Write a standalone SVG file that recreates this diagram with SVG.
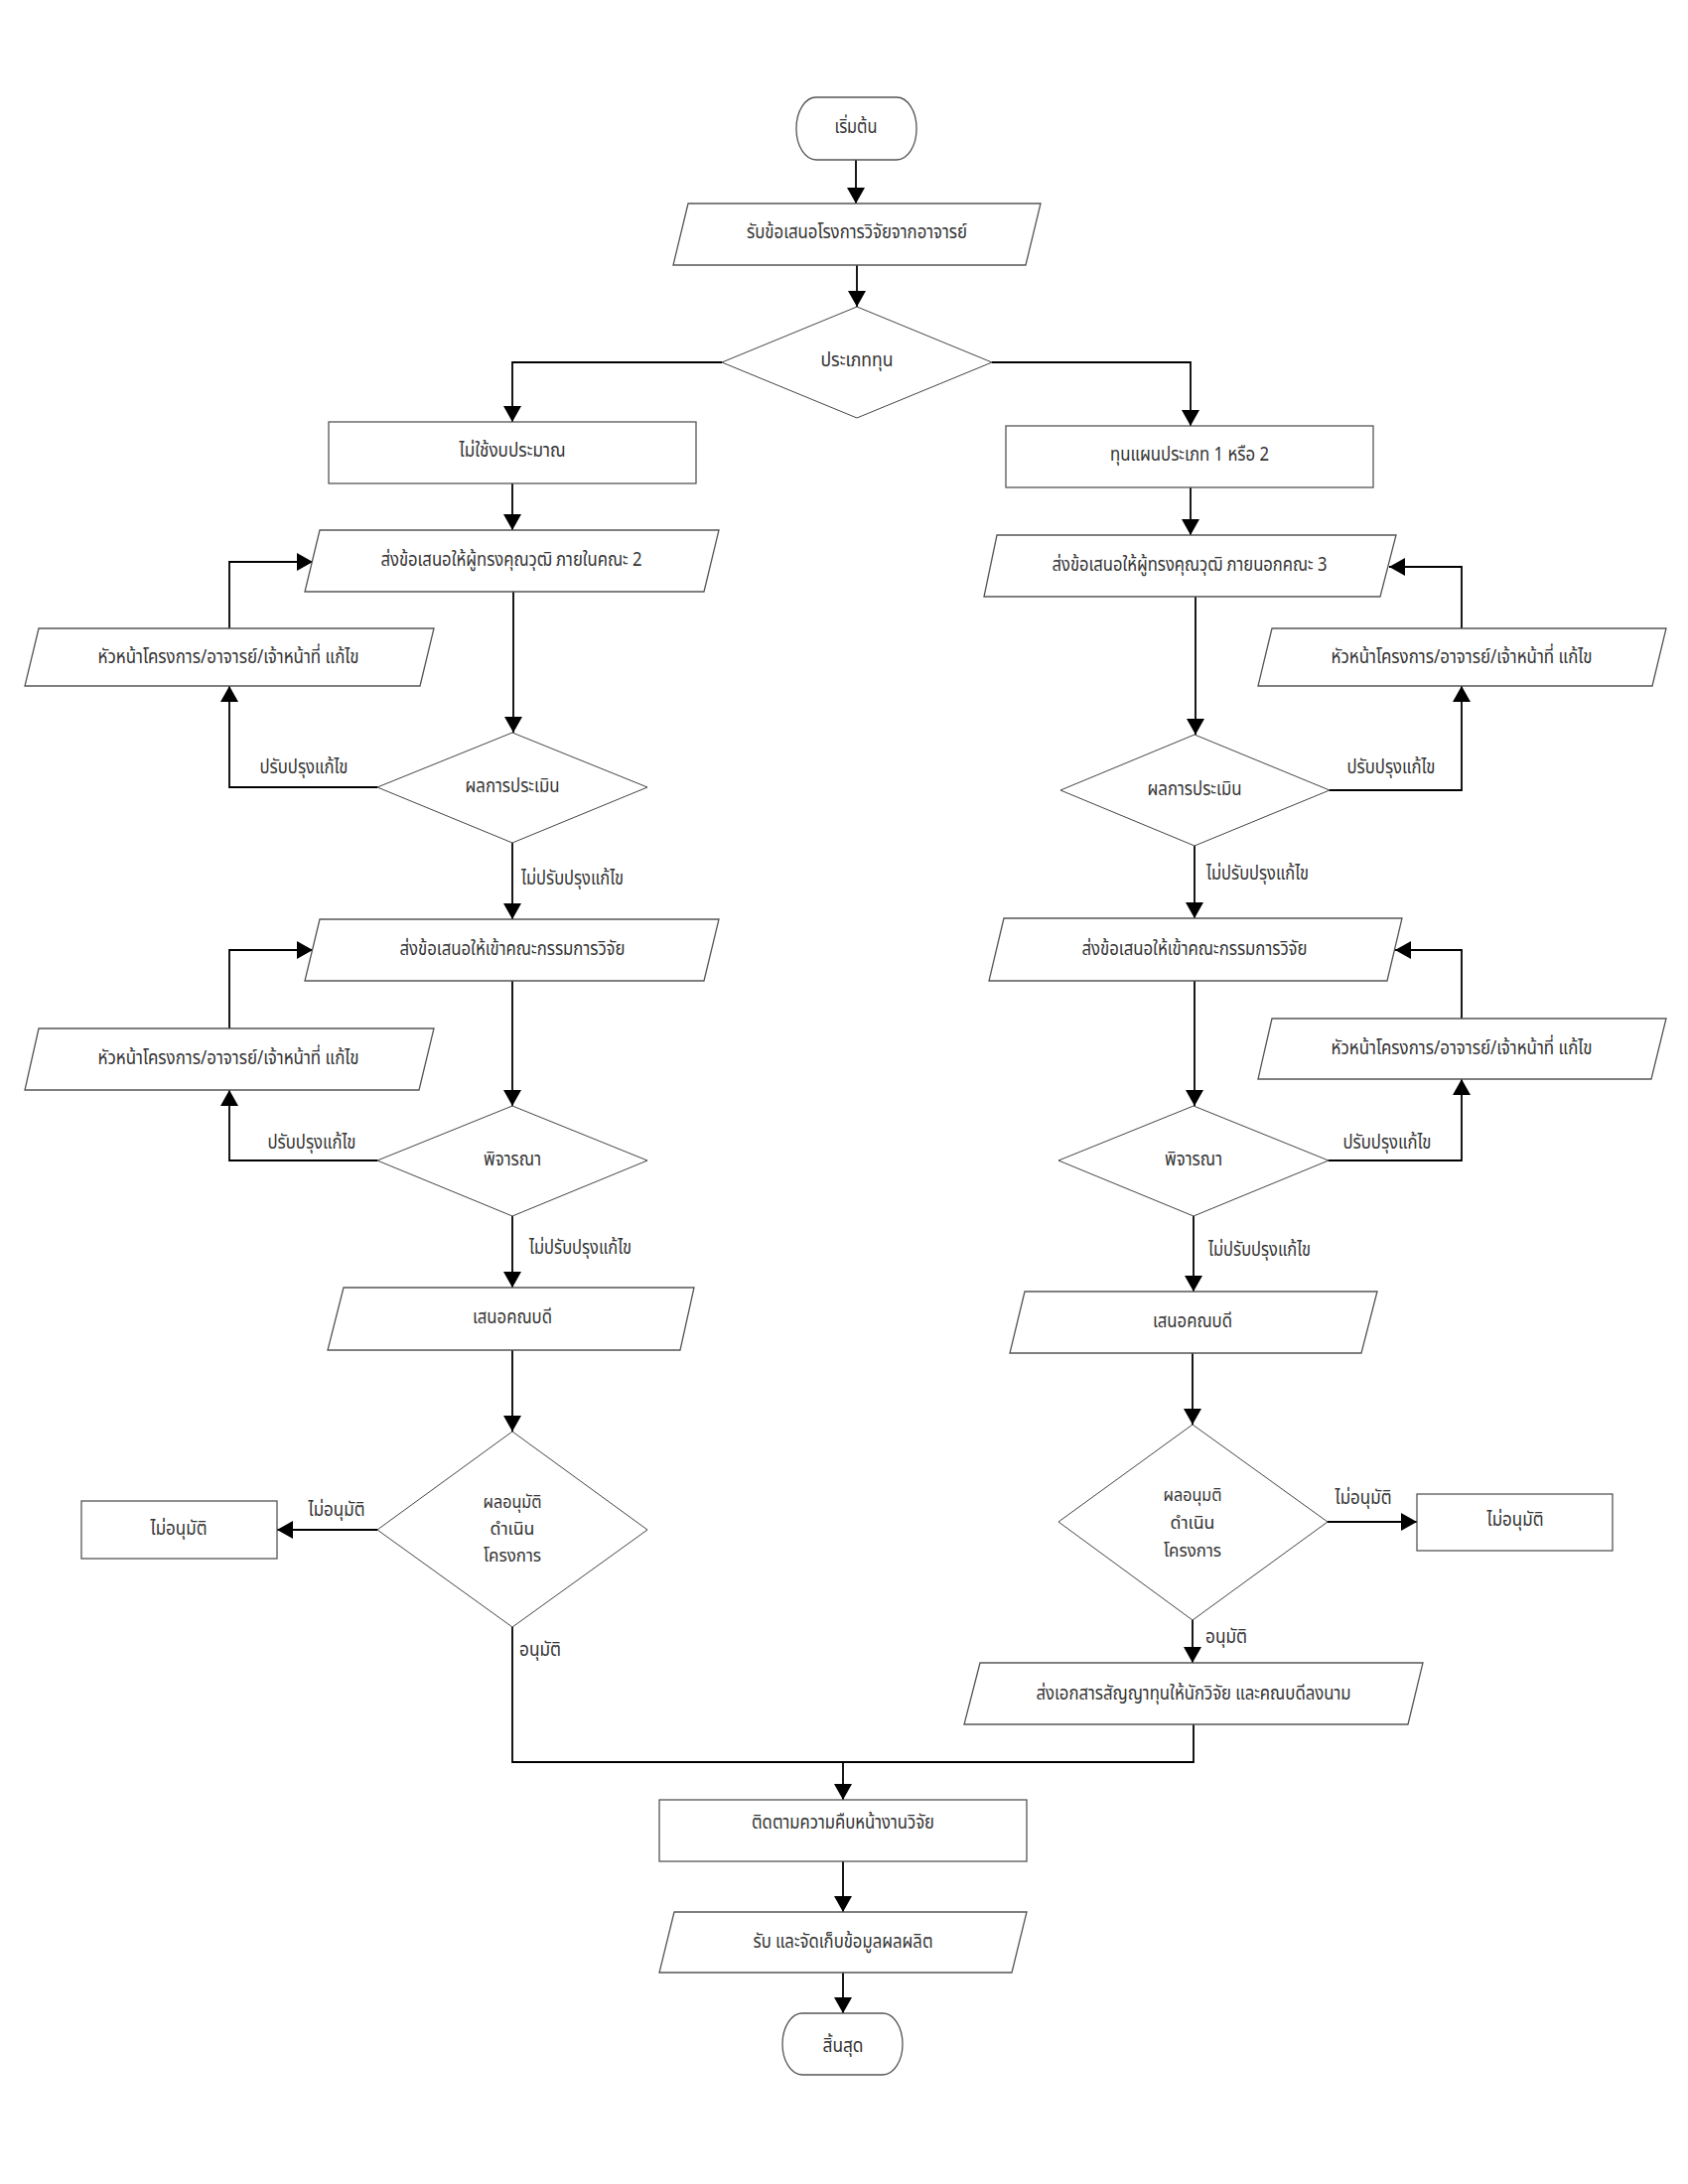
<svg xmlns="http://www.w3.org/2000/svg" width="1700" height="2200" viewBox="0 0 1700 2200">
<defs>
<marker id="arr" markerUnits="userSpaceOnUse" markerWidth="16" markerHeight="18" refX="16" refY="9" orient="auto">
<path d="M0,0 L16,9 L0,18 z" fill="#000"/>
</marker>
<style>
.n{fill:#fff;stroke:#555;stroke-width:1.3}
.d{fill:#fff;stroke:#444;stroke-width:1}
.t{font-family:"Noto Sans Thai","Noto Sans","DejaVu Sans","Liberation Sans",sans-serif;font-size:19.5px;fill:#333;text-anchor:middle;dominant-baseline:central}
.l{font-family:"Noto Sans Thai","Noto Sans","DejaVu Sans","Liberation Sans",sans-serif;font-size:19.5px;fill:#333;dominant-baseline:central}
.m{font-size:17px}
.c{fill:none;stroke:#000;stroke-width:1.8}
</style>
</defs>
<rect width="1700" height="2200" fill="#fff"/>
<g id="connectors">
<path class="c" marker-end="url(#arr)" d="M862,161 V205"/>
<path class="c" marker-end="url(#arr)" d="M863,267 V309"/>
<path class="c" marker-end="url(#arr)" d="M727,365 H516 V425"/>
<path class="c" marker-end="url(#arr)" d="M999,365 H1199 V429"/>
<path class="c" marker-end="url(#arr)" d="M516,487 V534"/>
<path class="c" marker-end="url(#arr)" d="M1199,491 V539"/>
<path class="c" marker-end="url(#arr)" d="M517,596 V738"/>
<path class="c" marker-end="url(#arr)" d="M380,793 H231 V691"/>
<path class="c" marker-end="url(#arr)" d="M231,633 V566 H315"/>
<path class="c" marker-end="url(#arr)" d="M516,849 V926"/>
<path class="c" marker-end="url(#arr)" d="M1204,601 V740"/>
<path class="c" marker-end="url(#arr)" d="M1339,796 H1472 V691"/>
<path class="c" marker-end="url(#arr)" d="M1472,633 V571 H1399"/>
<path class="c" marker-end="url(#arr)" d="M1203,852 V925"/>
<path class="c" marker-end="url(#arr)" d="M516,988 V1114"/>
<path class="c" marker-end="url(#arr)" d="M380,1169 H231 V1098"/>
<path class="c" marker-end="url(#arr)" d="M231,1036 V957 H315"/>
<path class="c" marker-end="url(#arr)" d="M516,1225 V1297"/>
<path class="c" marker-end="url(#arr)" d="M1203,988 V1114"/>
<path class="c" marker-end="url(#arr)" d="M1338,1169 H1472 V1087"/>
<path class="c" marker-end="url(#arr)" d="M1472,1026 V957 H1405"/>
<path class="c" marker-end="url(#arr)" d="M1202,1225 V1301"/>
<path class="c" marker-end="url(#arr)" d="M516,1360 V1442"/>
<path class="c" marker-end="url(#arr)" d="M380,1541 H279"/>
<path class="c" marker-end="url(#arr)" d="M1201,1363 V1435"/>
<path class="c" marker-end="url(#arr)" d="M1337,1533 H1427"/>
<path class="c" marker-end="url(#arr)" d="M1201,1632 V1675"/>
<path class="c" marker-end="url(#arr)" d="M516,1639 V1775 H849 V1813"/>
<path class="c" d="M1202,1737 V1775 H849"/>
<path class="c" marker-end="url(#arr)" d="M849,1875 V1926"/>
<path class="c" marker-end="url(#arr)" d="M849,1987 V2028"/>
<text class="t" x="306" y="773" textLength="89" lengthAdjust="spacingAndGlyphs">ปรับปรุงแก้ไข</text>
<text class="l" x="525" y="885" textLength="103" lengthAdjust="spacingAndGlyphs">ไม่ปรับปรุงแก้ไข</text>
<text class="t" x="1401" y="773" textLength="89" lengthAdjust="spacingAndGlyphs">ปรับปรุงแก้ไข</text>
<text class="l" x="1215" y="880" textLength="103" lengthAdjust="spacingAndGlyphs">ไม่ปรับปรุงแก้ไข</text>
<text class="t" x="314" y="1151" textLength="89" lengthAdjust="spacingAndGlyphs">ปรับปรุงแก้ไข</text>
<text class="l" x="533" y="1257" textLength="103" lengthAdjust="spacingAndGlyphs">ไม่ปรับปรุงแก้ไข</text>
<text class="t" x="1397" y="1151" textLength="89" lengthAdjust="spacingAndGlyphs">ปรับปรุงแก้ไข</text>
<text class="l" x="1217" y="1259" textLength="103" lengthAdjust="spacingAndGlyphs">ไม่ปรับปรุงแก้ไข</text>
<text class="t" x="339" y="1521" textLength="57" lengthAdjust="spacingAndGlyphs">ไม่อนุมัติ</text>
<text class="t" x="1373" y="1509" textLength="57" lengthAdjust="spacingAndGlyphs">ไม่อนุมัติ</text>
<text class="l" x="523" y="1662" textLength="42" lengthAdjust="spacingAndGlyphs">อนุมัติ</text>
<text class="l" x="1214" y="1649" textLength="42" lengthAdjust="spacingAndGlyphs">อนุมัติ</text>
</g>
<g id="start"><rect class="n" x="802" y="98" width="121" height="63" rx="20" ry="31"/><text class="t" x="862" y="128" textLength="43" lengthAdjust="spacingAndGlyphs">เริ่มต้น</text></g>
<g id="receive"><polygon class="n" points="693,205 1048,205 1033,267 678,267"/><text class="t" x="863" y="234" textLength="222" lengthAdjust="spacingAndGlyphs">รับข้อเสนอโรงการวิจัยจากอาจารย์</text></g>
<g id="fundType"><polygon class="d" points="863,309 999,365 863,421 727,365"/><text class="t" x="863" y="363" textLength="73" lengthAdjust="spacingAndGlyphs">ประเภททุน</text></g>
<g id="noBudget"><rect class="n" x="331" y="425" width="370" height="62"/><text class="t" x="516" y="454" textLength="107" lengthAdjust="spacingAndGlyphs">ไม่ใช้งบประมาณ</text></g>
<g id="planFund"><rect class="n" x="1013" y="429" width="370" height="62"/><text class="t" x="1198" y="458" textLength="160" lengthAdjust="spacingAndGlyphs">ทุนแผนประเภท 1 หรือ 2</text></g>
<g id="sendInternal"><polygon class="n" points="322,534 724,534 709,596 307,596"/><text class="t" x="515" y="564" textLength="263" lengthAdjust="spacingAndGlyphs">ส่งข้อเสนอให้ผู้ทรงคุณวุฒิ ภายในคณะ 2</text></g>
<g id="sendExternal"><polygon class="n" points="1004,539 1406,539 1390,601 991,601"/><text class="t" x="1198" y="569" textLength="277" lengthAdjust="spacingAndGlyphs">ส่งข้อเสนอให้ผู้ทรงคุณวุฒิ ภายนอกคณะ 3</text></g>
<g id="fixL1"><polygon class="n" points="39,633 437,633 423,691 25,691"/><text class="t" x="230" y="662" textLength="263" lengthAdjust="spacingAndGlyphs">หัวหน้าโครงการ/อาจารย์/เจ้าหน้าที่ แก้ไข</text></g>
<g id="fixR1"><polygon class="n" points="1281,633 1678,633 1664,691 1267,691"/><text class="t" x="1472" y="662" textLength="263" lengthAdjust="spacingAndGlyphs">หัวหน้าโครงการ/อาจารย์/เจ้าหน้าที่ แก้ไข</text></g>
<g id="evalL"><polygon class="d" points="516,738 652,793 516,849 380,793"/><text class="t" x="516" y="792" textLength="95" lengthAdjust="spacingAndGlyphs">ผลการประเมิน</text></g>
<g id="evalR"><polygon class="d" points="1203,740 1339,796 1203,852 1068,796"/><text class="t" x="1203" y="795" textLength="95" lengthAdjust="spacingAndGlyphs">ผลการประเมิน</text></g>
<g id="committeeL"><polygon class="n" points="322,926 724,926 709,988 307,988"/><text class="t" x="516" y="956" textLength="227" lengthAdjust="spacingAndGlyphs">ส่งข้อเสนอให้เข้าคณะกรรมการวิจัย</text></g>
<g id="committeeR"><polygon class="n" points="1011,925 1412,925 1397,988 996,988"/><text class="t" x="1203" y="956" textLength="227" lengthAdjust="spacingAndGlyphs">ส่งข้อเสนอให้เข้าคณะกรรมการวิจัย</text></g>
<g id="fixL2"><polygon class="n" points="39,1036 437,1036 422,1098 25,1098"/><text class="t" x="230" y="1066" textLength="263" lengthAdjust="spacingAndGlyphs">หัวหน้าโครงการ/อาจารย์/เจ้าหน้าที่ แก้ไข</text></g>
<g id="fixR2"><polygon class="n" points="1281,1026 1678,1026 1663,1087 1267,1087"/><text class="t" x="1472" y="1056" textLength="263" lengthAdjust="spacingAndGlyphs">หัวหน้าโครงการ/อาจารย์/เจ้าหน้าที่ แก้ไข</text></g>
<g id="considerL"><polygon class="d" points="516,1114 652,1169 516,1225 380,1169"/><text class="t" x="516" y="1168" textLength="58" lengthAdjust="spacingAndGlyphs">พิจารณา</text></g>
<g id="considerR"><polygon class="d" points="1202,1114 1338,1169 1202,1225 1066,1169"/><text class="t" x="1202" y="1168" textLength="58" lengthAdjust="spacingAndGlyphs">พิจารณา</text></g>
<g id="deanL"><polygon class="n" points="346,1297 699,1297 685,1360 330,1360"/><text class="t" x="516" y="1327" textLength="80" lengthAdjust="spacingAndGlyphs">เสนอคณบดี</text></g>
<g id="deanR"><polygon class="n" points="1032,1301 1387,1301 1371,1363 1017,1363"/><text class="t" x="1201" y="1331" textLength="80" lengthAdjust="spacingAndGlyphs">เสนอคณบดี</text></g>
<g id="approveL"><polygon class="d" points="516,1442 652,1541 516,1639 380,1541"/><text class="t m" x="516" y="1514" textLength="59" lengthAdjust="spacingAndGlyphs">ผลอนุมัติ</text><text class="t m" x="516" y="1541" textLength="45" lengthAdjust="spacingAndGlyphs">ดำเนิน</text><text class="t m" x="516" y="1568" textLength="58" lengthAdjust="spacingAndGlyphs">โครงการ</text></g>
<g id="approveR"><polygon class="d" points="1201,1435 1337,1533 1201,1632 1066,1533"/><text class="t m" x="1201" y="1507" textLength="59" lengthAdjust="spacingAndGlyphs">ผลอนุมติ</text><text class="t m" x="1201" y="1535" textLength="45" lengthAdjust="spacingAndGlyphs">ดำเนิน</text><text class="t m" x="1201" y="1563" textLength="58" lengthAdjust="spacingAndGlyphs">โครงการ</text></g>
<g id="rejectL"><rect class="n" x="82" y="1512" width="197" height="58"/><text class="t" x="180" y="1540" textLength="57" lengthAdjust="spacingAndGlyphs">ไม่อนุมัติ</text></g>
<g id="rejectR"><rect class="n" x="1427" y="1505" width="197" height="57"/><text class="t" x="1526" y="1531" textLength="57" lengthAdjust="spacingAndGlyphs">ไม่อนุมัติ</text></g>
<g id="contract"><polygon class="n" points="987,1675 1433,1675 1418,1737 971,1737"/><text class="t" x="1202" y="1706" textLength="317" lengthAdjust="spacingAndGlyphs">ส่งเอกสารสัญญาทุนให้นักวิจัย และคณบดีลงนาม</text></g>
<g id="monitor"><rect class="n" x="664" y="1813" width="370" height="62"/><text class="t" x="849" y="1836" textLength="184" lengthAdjust="spacingAndGlyphs">ติดตามความคืบหน้างานวิจัย</text></g>
<g id="collect"><polygon class="n" points="679,1926 1034,1926 1019,1987 664,1987"/><text class="t" x="849" y="1956" textLength="181" lengthAdjust="spacingAndGlyphs">รับ และจัดเก็บข้อมูลผลผลิต</text></g>
<g id="end"><rect class="n" x="788" y="2028" width="121" height="62" rx="20" ry="31"/><text class="t" x="849" y="2061" textLength="41" lengthAdjust="spacingAndGlyphs">สิ้นสุด</text></g>
</svg>
